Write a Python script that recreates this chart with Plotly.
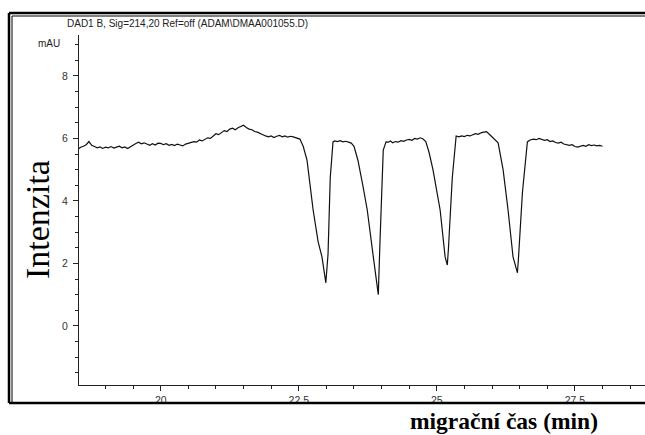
import plotly.graph_objects as go

# migration time (min) and signal (mAU)
time_min = [
    18.50, 18.55, 18.60, 18.65, 18.70, 18.75, 18.80, 18.85, 18.90, 18.95,
    19.00, 19.05, 19.10, 19.15, 19.20, 19.25, 19.30, 19.35, 19.40, 19.45,
    19.50, 19.55, 19.60, 19.65, 19.70, 19.75, 19.80, 19.85, 19.90, 19.95,
    20.00, 20.05, 20.10, 20.15, 20.20, 20.25, 20.30, 20.35, 20.40, 20.45,
    20.50, 20.55, 20.60, 20.65, 20.70, 20.75, 20.80, 20.85, 20.90, 20.95,
    21.00, 21.05, 21.10, 21.15, 21.20, 21.25, 21.30, 21.35, 21.40, 21.45,
    21.50, 21.55, 21.60, 21.65, 21.70, 21.75, 21.80, 21.85, 21.90, 21.95,
    22.00, 22.05, 22.10, 22.15, 22.20, 22.25, 22.30, 22.35, 22.40, 22.45,
    22.52, 22.58, 22.65, 22.76, 22.85, 22.92, 22.96, 22.99, 23.03, 23.07,
    23.12, 23.15, 23.20, 23.25, 23.30, 23.35, 23.40, 23.45, 23.50, 23.57,
    23.66, 23.74, 23.85, 23.91, 23.94, 23.97, 24.03, 24.08, 24.12, 24.16,
    24.20, 24.25, 24.30, 24.35, 24.40, 24.45, 24.50, 24.55, 24.60, 24.65,
    24.70, 24.75, 24.80, 24.86, 24.93, 25.06, 25.15, 25.19, 25.21, 25.28,
    25.35, 25.40, 25.45, 25.50, 25.55, 25.60, 25.65, 25.70, 25.75, 25.80,
    25.85, 25.90, 25.96, 26.04, 26.11, 26.20, 26.29, 26.38, 26.44, 26.46,
    26.48, 26.55, 26.64, 26.69, 26.75, 26.80, 26.85, 26.90, 26.95, 27.00,
    27.05, 27.10, 27.15, 27.20, 27.25, 27.30, 27.35, 27.40, 27.45, 27.50,
    27.55, 27.60, 27.65, 27.70, 27.75, 27.80, 27.85, 27.90, 27.95, 28.00,
]
signal_mau = [
    5.65, 5.72, 5.75, 5.80, 5.90, 5.78, 5.74, 5.70, 5.73, 5.68,
    5.72, 5.70, 5.74, 5.69, 5.72, 5.75, 5.70, 5.73, 5.68, 5.74,
    5.78, 5.84, 5.88, 5.83, 5.86, 5.81, 5.78, 5.83, 5.79, 5.85,
    5.84, 5.80, 5.83, 5.78, 5.81, 5.77, 5.82, 5.79, 5.76, 5.82,
    5.84, 5.86, 5.90, 5.88, 5.95, 5.92, 5.98, 6.02, 6.00, 6.08,
    6.15, 6.12, 6.20, 6.25, 6.22, 6.30, 6.33, 6.28, 6.34, 6.38,
    6.42, 6.35, 6.30, 6.28, 6.22, 6.20, 6.15, 6.12, 6.08, 6.05,
    6.08, 6.03, 6.07, 6.10, 6.05, 6.08, 6.04, 6.07, 6.05, 6.02,
    5.98, 5.75, 5.30, 3.71, 2.70, 2.21, 1.80, 1.38, 2.30, 4.74,
    5.89, 5.92, 5.90, 5.93, 5.89, 5.91, 5.88, 5.85, 5.75, 5.31,
    4.50, 3.71, 2.21, 1.50, 1.00, 2.66, 5.63, 5.89, 5.88, 5.92,
    5.86, 5.90, 5.88, 5.93, 5.91, 5.95, 5.97, 5.94, 6.00, 5.98,
    6.02, 5.98, 5.90, 5.55, 5.00, 3.71, 2.21, 1.95, 2.46, 4.74,
    6.08, 6.05, 6.08, 6.06, 6.10, 6.08, 6.12, 6.15, 6.13, 6.18,
    6.20, 6.22, 6.12, 5.99, 5.86, 5.00, 3.71, 2.21, 1.85, 1.70,
    2.21, 4.26, 5.89, 5.95, 5.98, 5.96, 6.00, 5.97, 5.94, 5.96,
    5.90, 5.92, 5.87, 5.85, 5.88, 5.82, 5.80, 5.78, 5.80, 5.74,
    5.72, 5.76, 5.78, 5.75, 5.80, 5.77, 5.79, 5.76, 5.78, 5.75,
]

x_tick_vals = [20, 22.5, 25, 27.5]
x_tick_text = ["20", "22.5", "25", "27.5"]
y_tick_vals = [0, 2, 4, 6, 8]
y_tick_text = ["0", "2", "4", "6", "8"]

title_text = "DAD1 B, Sig=214,20 Ref=off (ADAM\\DMAA001055.D)"
unit_text = "mAU"
y_title = "Intenzita"
x_title = "migrační čas (min)"

W, H = 645, 435
L, R, T, B = 79, 0, 35, 50
PW, PH = W - L - R, H - T - B


def px(xp):
    return (xp - L) / PW


def py(yp):
    return (H - B - yp) / PH


fig = go.Figure()
fig.add_trace(go.Scatter(
    x=time_min, y=signal_mau, mode="lines",
    line=dict(color="#111111", width=1.2), showlegend=False,
    hoverinfo="skip",
))

tick_font = dict(family="Liberation Sans, Arial", size=10.5, color="#333333")

fig.update_layout(
    width=W, height=H,
    margin=dict(l=L, r=R, t=T, b=B),
    paper_bgcolor="white", plot_bgcolor="white",
    title=dict(text=title_text, x=67 / W, xanchor="left", xref="container",
               y=1 - 23 / H, yanchor="middle", yref="container",
               font=dict(family="Liberation Sans, Arial", size=10, color="#222222")),
    xaxis=dict(
        range=[18.52, 28.77], showgrid=False, zeroline=False,
        showline=True, linecolor="#222222", linewidth=1,
        tickmode="array", tickvals=x_tick_vals, ticktext=x_tick_text,
        ticks="outside", ticklen=5, tickcolor="#222222", tickfont=tick_font,
        minor=dict(dtick=0.5, tick0=0, ticks="outside", ticklen=3,
                   tickcolor="#222222", showgrid=False),
    ),
    yaxis=dict(
        range=[-1.89, 9.31], showgrid=False, zeroline=False,
        showline=True, linecolor="#222222", linewidth=1,
        tickmode="array", tickvals=y_tick_vals, ticktext=y_tick_text,
        ticks="outside", ticklen=5, tickcolor="#222222", tickfont=tick_font,
        ticklabelstandoff=3,
        minor=dict(dtick=0.5, tick0=0, ticks="outside", ticklen=3,
                   tickcolor="#222222", showgrid=False),
    ),
)

# outer document frame (left, top, bottom edges; right edge lies outside the crop)
frame = dict(color="black", width=2.5)
fig.add_shape(type="line", xref="paper", yref="paper",
              x0=px(9), x1=px(9), y0=py(403), y1=py(13), line=frame)
fig.add_shape(type="line", xref="paper", yref="paper",
              x0=px(9), x1=px(650), y0=py(13), y1=py(13), line=frame)
fig.add_shape(type="line", xref="paper", yref="paper",
              x0=px(9), x1=px(650), y0=py(403), y1=py(403), line=frame)
fig.add_shape(type="line", xref="paper", yref="paper",
              x0=px(12), x1=px(650), y0=py(16), y1=py(16),
              line=dict(color="black", width=1))
fig.add_shape(type="line", xref="paper", yref="paper",
              x0=px(12), x1=px(12), y0=py(16), y1=py(403),
              line=dict(color="black", width=1))

fig.add_annotation(xref="paper", yref="paper", x=px(62), y=py(43),
                   xanchor="right", yanchor="middle", showarrow=False,
                   text=unit_text,
                   font=dict(family="Liberation Sans, Arial", size=10, color="#222222"))
fig.add_annotation(xref="paper", yref="paper", x=px(37), y=py(220),
                   xanchor="center", yanchor="middle", showarrow=False,
                   text=y_title, textangle=-90,
                   font=dict(family="Liberation Serif, Times New Roman", size=34, color="black"))
fig.add_annotation(xref="paper", yref="paper", x=px(504), y=py(421),
                   xanchor="center", yanchor="middle", showarrow=False,
                   text="<b>" + x_title + "</b>",
                   font=dict(family="Liberation Serif, Times New Roman", size=23.5, color="black"))

fig.write_html("out.html")
